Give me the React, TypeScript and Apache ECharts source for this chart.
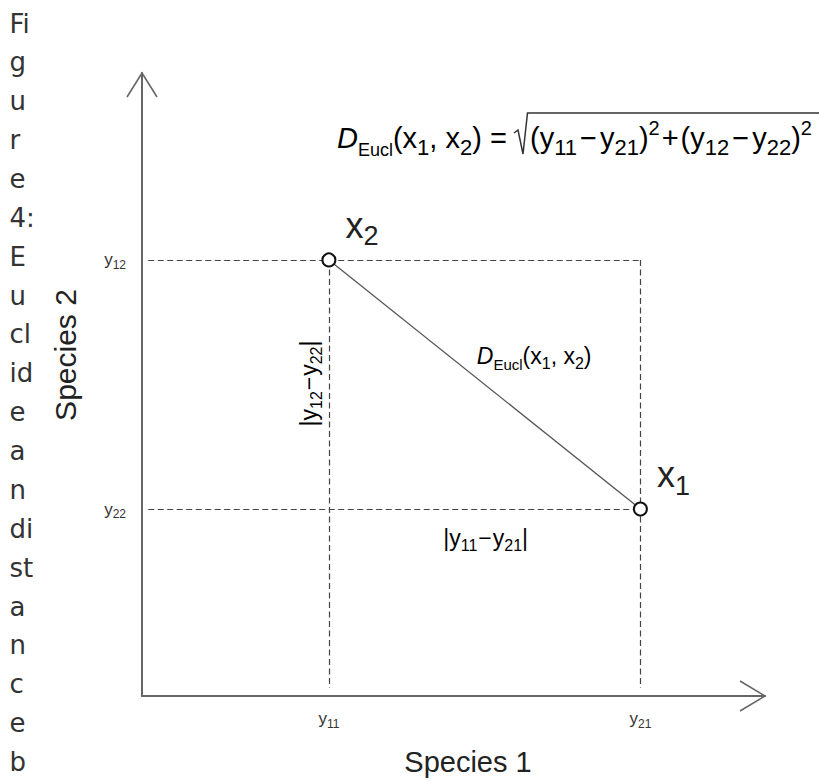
import React, { useEffect, useRef } from "react";
import * as echarts from "echarts";

// ---- data ----
const CAPTION_LINES = ["Fi", "g", "u", "r", "e", "4:", "E", "u", "cl", "id", "e", "a", "n", "di", "st", "a", "n", "c", "e", "b"];
const POINT_SUBS = ["2", "1"]; // x2, x1
const SPECIES_1 = [3, 8]; // positions on Species 1 axis
const SPECIES_2 = [7, 3]; // positions on Species 2 axis
const X_TICK_VALUES = [3, 8];
const X_TICK_SUBS = ["11", "21"];
const Y_TICK_VALUES = [7, 3];
const Y_TICK_SUBS = ["12", "22"];
const AXIS_MIN = 0;
const AXIS_MAX = 10;
const GUIDE_START = 0.1;
const GUIDE_END = 0.13;

const SANS = '"Liberation Sans", Arial, Helvetica, sans-serif';
const CAP_FONT = '"DejaVu Sans", Verdana, sans-serif';
const INK = "#222";
const INK2 = "#333";

const tickRich = {
  v: { fontSize: 17, lineHeight: 21.5, fontFamily: SANS, color: INK2 },
  s: { fontSize: 12, lineHeight: 12, fontFamily: SANS, color: INK2, verticalAlign: "bottom" },
};
const pointRich = {
  m: { fontSize: 36, lineHeight: 49, fontFamily: SANS, color: INK },
  s: { fontSize: 27, lineHeight: 27, fontFamily: SANS, color: INK, verticalAlign: "bottom" },
};
const midRich = {
  d: { fontSize: 23, lineHeight: 31, fontFamily: SANS, fontStyle: "italic", color: INK },
  m: { fontSize: 23, lineHeight: 31, fontFamily: SANS, color: INK },
  o: { fontSize: 23, lineHeight: 31, fontFamily: SANS, color: INK, padding: [0, 1, 0, 1] },
  e: { fontSize: 15, lineHeight: 15, fontFamily: SANS, color: INK, verticalAlign: "bottom" },
  s: { fontSize: 16, lineHeight: 16, fontFamily: SANS, color: INK, verticalAlign: "bottom" },
};
const formulaRich = {
  d: { fontSize: 29, lineHeight: 41, fontFamily: SANS, fontStyle: "italic", color: INK },
  m: { fontSize: 29, lineHeight: 41, fontFamily: SANS, color: INK },
  o: { fontSize: 29, lineHeight: 41, fontFamily: SANS, color: INK, padding: [0, 3, 0, 3] },
  q: { fontSize: 29, lineHeight: 41, fontFamily: SANS, color: INK, padding: [0, 2, 0, 2] },
  e: { fontSize: 18, lineHeight: 18, fontFamily: SANS, color: INK, verticalAlign: "bottom" },
  s: { fontSize: 22, lineHeight: 22, fontFamily: SANS, color: INK, verticalAlign: "bottom" },
  p: { fontSize: 20, lineHeight: 20, fontFamily: SANS, color: INK, verticalAlign: "top" },
};

export default function App() {
  const ref = useRef<HTMLDivElement>(null);

  useEffect(() => {
    const el = ref.current;
    if (!el) return;
    const chart = echarts.init(el, undefined, { renderer: "svg" });

    const pts = SPECIES_1.map((v, i) => [v, SPECIES_2[i]]);
    const guideLines = [
      [[GUIDE_START, SPECIES_2[0]], [SPECIES_1[1], SPECIES_2[0]]],
      [[GUIDE_START, SPECIES_2[1]], [SPECIES_1[1], SPECIES_2[1]]],
      [[SPECIES_1[0], SPECIES_2[0]], [SPECIES_1[0], GUIDE_END]],
      [[SPECIES_1[1], SPECIES_2[0]], [SPECIES_1[1], GUIDE_END]],
    ];

    const axisCommon = {
      type: "value",
      min: AXIS_MIN,
      max: AXIS_MAX,
      splitLine: { show: false },
      axisTick: { show: false },
      axisLine: { show: true, onZero: false, lineStyle: { color: "#666", width: 2 } },
    };

    chart.setOption({
      animation: false,
      backgroundColor: "#fff",
      grid: { left: 142, right: 54, top: 73, bottom: 85, containLabel: false, outerBoundsMode: "none" },
      xAxis: {
        ...axisCommon,
        name: "Species 1",
        nameLocation: "middle",
        nameGap: 51,
        nameTextStyle: { fontSize: 29, lineHeight: 29, fontFamily: SANS, color: INK, padding: [0, 0, 0, 29] },
        axisLabel: {
          show: true,
          customValues: X_TICK_VALUES,
          margin: 12,
          formatter: (v: number) => `{v|y}{s|${X_TICK_SUBS[X_TICK_VALUES.indexOf(v)]}}`,
          rich: tickRich,
        },
      },
      yAxis: {
        ...axisCommon,
        name: "Species 2",
        nameLocation: "middle",
        nameRotate: 90,
        nameGap: 62,
        nameTextStyle: { fontSize: 30, fontFamily: SANS, color: INK, padding: [0, 0, 0, 59] },
        axisLabel: {
          show: true,
          customValues: Y_TICK_VALUES,
          margin: 16,
          formatter: (v: number) => `{v|y}{s|${Y_TICK_SUBS[Y_TICK_VALUES.indexOf(v)]}}`,
          rich: tickRich,
        },
      },
      series: [
        {
          type: "lines",
          coordinateSystem: "cartesian2d",
          silent: true,
          z: 1,
          lineStyle: { color: "#444", width: 1.2, type: [6, 3.5], opacity: 1 },
          data: guideLines.map((c) => ({ coords: c })),
        },
        {
          type: "lines",
          coordinateSystem: "cartesian2d",
          silent: true,
          z: 2,
          lineStyle: { color: "#555", width: 1.3, type: "solid", opacity: 1 },
          data: [{ coords: [pts[0], pts[1]] }],
        },
        {
          type: "scatter",
          silent: true,
          z: 3,
          symbol: "circle",
          symbolSize: 13,
          itemStyle: { color: "#fff", borderColor: "#111", borderWidth: 2, opacity: 1 },
          label: {
            show: true,
            position: "inside",
            offset: [33, -34.5],
            formatter: (p: any) => `{m|x}{s|${POINT_SUBS[p.dataIndex]}}`,
            rich: pointRich,
          },
          data: pts,
        },
      ],
    });

    const px = (v: number[]) => chart.convertToPixel({ gridIndex: 0 }, v) as number[];
    const yTip = px([AXIS_MIN, AXIS_MAX]);
    const xTip = px([AXIS_MAX, AXIS_MIN]);
    const mid = px([(pts[0][0] + pts[1][0]) / 2, (pts[0][1] + pts[1][1]) / 2]);
    const hMid = px([(SPECIES_1[0] + SPECIES_1[1]) / 2, SPECIES_2[1]]);
    const vMid = px([SPECIES_1[0], (SPECIES_2[0] + SPECIES_2[1]) / 2]);

    const elements: any[] = [];
    CAPTION_LINES.forEach((t, i) => {
      elements.push({
        type: "text",
        x: 9.5,
        y: 23.5 + 38.87 * i,
        silent: true,
        style: { text: t, fontSize: 26, fontFamily: CAP_FONT, fill: INK2, align: "left", verticalAlign: "middle" },
      });
    });
    elements.push(
      {
        type: "polyline",
        silent: true,
        shape: { points: [[yTip[0] - 15, yTip[1] + 24], [yTip[0], yTip[1]], [yTip[0] + 15, yTip[1] + 24]] },
        style: { stroke: "#666", lineWidth: 1.6, fill: "none" },
      },
      {
        type: "polyline",
        silent: true,
        shape: { points: [[xTip[0] - 25, xTip[1] - 15], [xTip[0], xTip[1]], [xTip[0] - 25, xTip[1] + 15]] },
        style: { stroke: "#666", lineWidth: 1.6, fill: "none" },
      },
      {
        type: "text",
        silent: true,
        x: mid[0] + 49.5,
        y: mid[1] - 28.5,
        style: {
          text: "{d|D}{e|Eucl}{m|(x}{s|1}{m|, x}{s|2}{m|)}",
          rich: midRich,
          align: "center",
          verticalAlign: "middle",
        },
      },
      {
        type: "text",
        silent: true,
        x: hMid[0] + 1,
        y: hMid[1] + 29,
        style: {
          text: "{m||y}{s|11}{o|−}{m|y}{s|21}{m||}",
          rich: midRich,
          align: "center",
          verticalAlign: "middle",
        },
      },
      {
        type: "text",
        silent: true,
        x: vMid[0] - 19.5,
        y: vMid[1] - 1,
        rotation: Math.PI / 2,
        style: {
          text: "{m||y}{s|12}{o|−}{m|y}{s|22}{m||}",
          rich: midRich,
          align: "center",
          verticalAlign: "middle",
        },
      },
      {
        type: "text",
        silent: true,
        x: 337,
        y: 138,
        style: {
          text: "{d|D}{e|Eucl}{m|(x}{s|1}{m|, x}{s|2}{m|) =}",
          rich: formulaRich,
          align: "left",
          verticalAlign: "middle",
        },
      },
      {
        type: "polyline",
        silent: true,
        shape: { points: [[514, 133], [518, 130], [523, 154], [527.5, 113], [822, 113]] },
        style: { stroke: "#333", lineWidth: 1.5, fill: "none" },
      },
      {
        type: "text",
        silent: true,
        x: 530,
        y: 138,
        style: {
          text: "{m|(y}{s|11}{o|−}{m|y}{s|21}{m|)}{p|2}{q|+}{m|(y}{s|12}{o|−}{m|y}{s|22}{m|)}{p|2}",
          rich: formulaRich,
          align: "left",
          verticalAlign: "middle",
        },
      }
    );

    chart.setOption({ graphic: { elements } });

    return () => {
      chart.dispose();
    };
  }, []);

  return (
    <div
      ref={ref}
      style={{ position: "absolute", left: 0, top: 0, width: 819, height: 781, background: "#fff" }}
    />
  );
}
